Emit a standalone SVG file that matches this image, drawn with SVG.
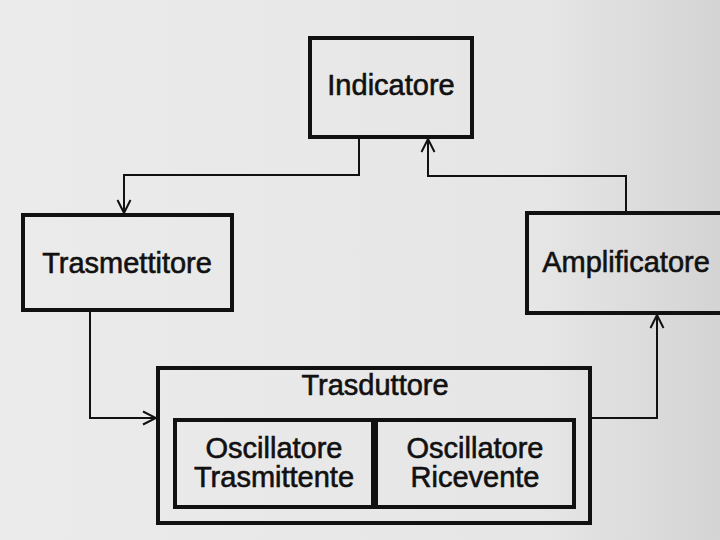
<svg xmlns="http://www.w3.org/2000/svg" width="720" height="540" viewBox="0 0 720 540">
  <defs>
    <linearGradient id="bg" x1="0" y1="0" x2="1" y2="0">
      <stop offset="0" stop-color="#ebebeb"/>
      <stop offset="0.75" stop-color="#e6e6e6"/>
      <stop offset="1" stop-color="#d4d4d4"/>
    </linearGradient>
    <marker id="arr" markerUnits="userSpaceOnUse" markerWidth="16" markerHeight="16" viewBox="0 0 16 16" refX="14" refY="8" orient="auto">
      <path d="M1,1.5 L14,8 L1,14.5" fill="none" stroke="#111" stroke-width="2"/>
    </marker>
    <style>
      .box { fill: none; stroke: #111; stroke-width: 4; }
      .lbl { font-family: "Liberation Sans", Arial, Helvetica, sans-serif; font-size: 29px; fill: #111; stroke: #111; stroke-width: 0.6; text-anchor: middle; }
      .con { fill: none; stroke: #111; stroke-width: 2; marker-end: url(#arr); }
    </style>
  </defs>
  <rect x="0" y="0" width="720" height="540" fill="url(#bg)"/>

  <g id="connectors">
    <path class="con" d="M359,139 V175 H124 V213"/>
    <path class="con" d="M90,310 V418 H156"/>
    <path class="con" d="M590,418 H657 V315"/>
    <path class="con" d="M626,211 V176 H428 V139"/>
  </g>

  <g id="indicatore">
    <rect class="box" x="310" y="38" width="162" height="99"/>
    <text class="lbl" x="391" y="95">Indicatore</text>
  </g>

  <g id="trasmettitore">
    <rect class="box" x="23" y="215" width="209" height="95"/>
    <text class="lbl" x="127" y="273">Trasmettitore</text>
  </g>

  <g id="amplificatore">
    <rect class="box" x="527" y="213" width="200" height="100"/>
    <text class="lbl" x="626" y="272">Amplificatore</text>
  </g>

  <g id="trasduttore">
    <rect class="box" x="158" y="368" width="432" height="155"/>
    <text class="lbl" x="375" y="395">Trasduttore</text>
  </g>

  <g id="oscillatore-trasmittente">
    <rect class="box" x="175" y="420" width="198" height="87"/>
    <text class="lbl" x="274" y="458">Oscillatore</text>
    <text class="lbl" x="274" y="487">Trasmittente</text>
  </g>

  <g id="oscillatore-ricevente">
    <rect class="box" x="376" y="420" width="198" height="87"/>
    <text class="lbl" x="475" y="458">Oscillatore</text>
    <text class="lbl" x="475" y="487">Ricevente</text>
  </g>
</svg>
